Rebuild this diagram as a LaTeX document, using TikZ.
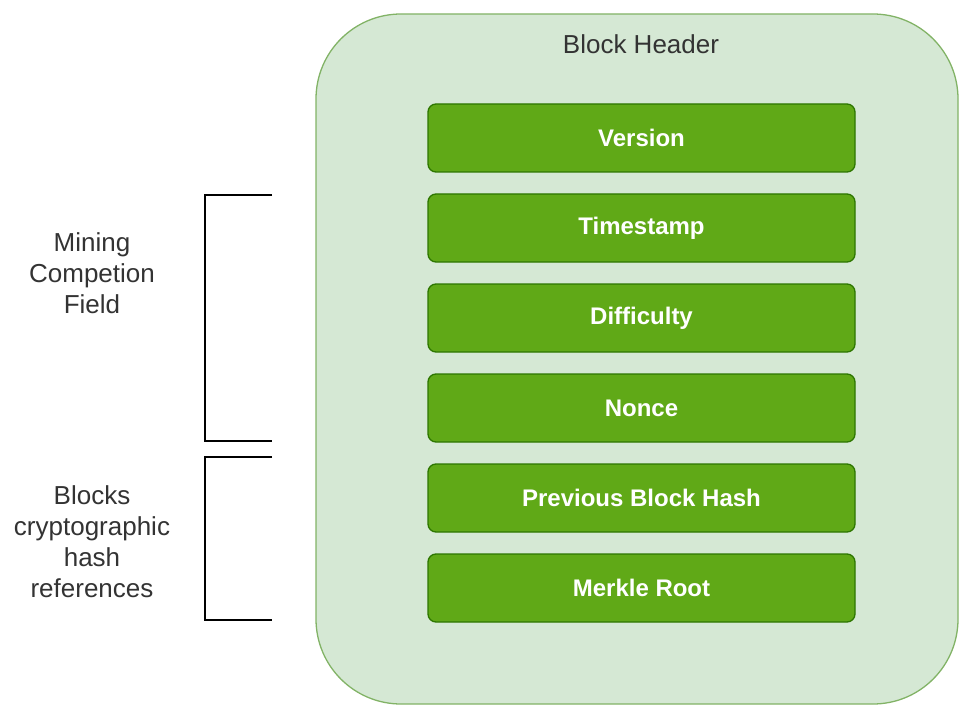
\documentclass[tikz,border=0pt]{standalone}
\usepackage{fontspec}
\setmainfont{Liberation Sans}
\usepackage{xcolor}
\usetikzlibrary{positioning}

\definecolor{hdrfill}{HTML}{D5E8D4}
\definecolor{hdrdraw}{HTML}{82B366}
\definecolor{fieldfill}{HTML}{60A917}
\definecolor{fielddraw}{HTML}{2D7600}
\definecolor{txtgray}{HTML}{333333}

\begin{document}
\begin{tikzpicture}[
        x=1pt, y=-1pt,
        node distance=20.7pt,
        header/.style={
            rectangle,
            draw=hdrdraw,
            fill=hdrfill,
            line width=1.3pt,
            rounded corners=85pt,
            minimum width=642pt,
            minimum height=690pt
        },
        field/.style={
            rectangle,
            draw=fielddraw,
            fill=fieldfill,
            line width=1.3pt,
            rounded corners=8pt,
            minimum width=427pt,
            minimum height=68pt,
            text=white,
            font=\fontsize{24}{29}\selectfont\bfseries
        },
        note/.style={
            align=center,
            text=txtgray,
            font=\fontsize{26}{31}\selectfont
        },
        bracket/.style={draw=black, line width=1.5pt}
    ]

    \useasboundingbox (0,0) rectangle (959,706);

    \node (header) [header] at (637,359) {};
    \node (title) [note] at (641,44) {Block Header};

    \node (version) [field] at (641.5,138) {Version};
    \node (timestamp) [field, below=of version] {Timestamp};
    \node (difficulty) [field, below=of timestamp] {Difficulty};
    \node (nonce) [field, below=of difficulty] {Nonce};
    \node (prevhash) [field, below=of nonce] {Previous Block Hash};
    \node (merkle) [field, below=of prevhash] {Merkle Root};

    % brackets on the left
    \coordinate (mtop) at (272,195);
    \coordinate (mbot) at (272,441);
    \coordinate (htop) at (272,457);
    \coordinate (hbot) at (272,620);
    \draw [bracket] (mtop) -- ++(-67,0) |- (mbot);
    \draw [bracket] (htop) -- ++(-67,0) |- (hbot);

    \node (mining) [note] at (92,273) {Mining\\Competion\\Field};
    \node (hashref) [note] at (92,542) {Blocks\\cryptographic\\hash\\references};

    \end{tikzpicture}
\end{document}
